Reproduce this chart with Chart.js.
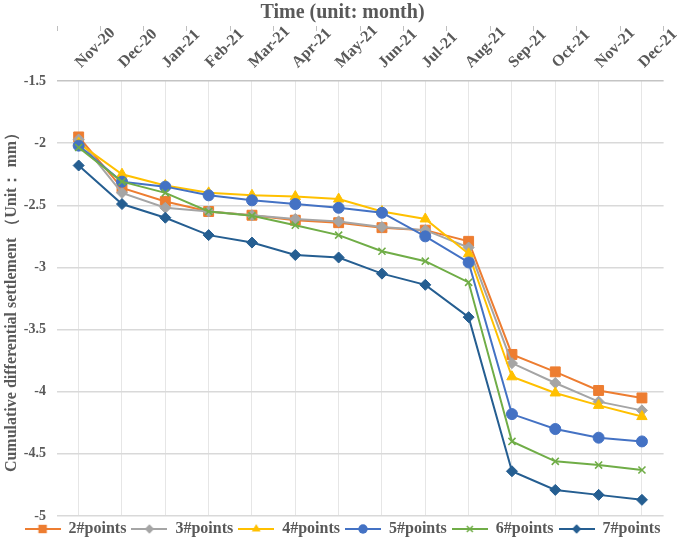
<!DOCTYPE html>
<html>
<head>
<meta charset="utf-8">
<script src="https://cdn.jsdelivr.net/npm/chart.js@4.4.1/dist/chart.umd.min.js"></script>
<style>
html,body{margin:0;padding:0;background:#fff;}
#wrap{width:685px;height:543px;position:relative;}
</style>
</head>
<body>
<div id="wrap"><canvas id="c"></canvas></div>
<script>
const months = ['Nov-20','Dec-20','Jan-21','Feb-21','Mar-21','Apr-21','May-21','Jun-21','Jul-21','Aug-21','Sep-21','Oct-21','Nov-21','Dec-21'];
const seriesNames = ['2#points','3#points','4#points','5#points','6#points','7#points'];
const p2 = [-1.95,-2.36,-2.47,-2.55,-2.58,-2.62,-2.64,-2.68,-2.70,-2.79,-3.70,-3.84,-3.99,-4.05];
const p3 = [-1.97,-2.40,-2.52,-2.55,-2.58,-2.61,-2.63,-2.675,-2.70,-2.84,-3.77,-3.93,-4.08,-4.15];
const p4 = [-2.00,-2.25,-2.34,-2.40,-2.42,-2.43,-2.45,-2.55,-2.61,-2.89,-3.88,-4.01,-4.11,-4.20];
const p5 = [-2.02,-2.31,-2.35,-2.42,-2.46,-2.49,-2.52,-2.56,-2.75,-2.96,-4.18,-4.30,-4.37,-4.40];
const p6 = [-2.035,-2.31,-2.40,-2.55,-2.585,-2.66,-2.74,-2.87,-2.95,-3.12,-4.40,-4.56,-4.59,-4.63];
const p7 = [-2.18,-2.49,-2.60,-2.74,-2.80,-2.90,-2.92,-3.05,-3.14,-3.40,-4.64,-4.79,-4.83,-4.87];
const yMin = -5, yMax = -1.5, yStep = 0.5;

const seriesValues = [p2,p3,p4,p5,p6,p7];
const colors = ['#ED7D31','#A5A5A5','#FFC000','#4472C4','#70AD47','#255E91'];
const styles = ['rect','rectRot','triangle','circle','crossRot','rectRot'];
const radii = [7,5.5,6,5.5,5,5.5];

const TXT = '#595959';
const FONT = "'Liberation Serif', 'Times New Roman', serif";

function markerPath(ctx, style, x, y, r){
  ctx.beginPath();
  if(style==='rect'){ const s=r*Math.SQRT1_2; ctx.rect(x-s,y-s,2*s,2*s); }
  else if(style==='rectRot'){ ctx.moveTo(x,y-r);ctx.lineTo(x+r,y);ctx.lineTo(x,y+r);ctx.lineTo(x-r,y);ctx.closePath(); }
  else if(style==='triangle'){ ctx.moveTo(x,y-r);ctx.lineTo(x+r*0.866,y+r*0.5);ctx.lineTo(x-r*0.866,y+r*0.5);ctx.closePath(); }
  else if(style==='circle'){ ctx.arc(x,y,r,0,Math.PI*2); }
  else if(style==='crossRot'){ const s=r*Math.SQRT1_2; ctx.moveTo(x-s,y-s);ctx.lineTo(x+s,y+s);ctx.moveTo(x+s,y-s);ctx.lineTo(x-s,y+s); }
}
const ICON_W = 36;
function legendIcon(i){
  const c=document.createElement('canvas'); c.width=ICON_W; c.height=14;
  const ctx=c.getContext('2d');
  ctx.strokeStyle=colors[i]; ctx.fillStyle=colors[i]; ctx.lineWidth=2;
  ctx.beginPath(); ctx.moveTo(0,7); ctx.lineTo(ICON_W,7); ctx.stroke();
  const r = radii[i]*0.85;
  markerPath(ctx, styles[i], ICON_W/2, 7, r);
  if(styles[i]==='crossRot'){ ctx.lineWidth=1.5; ctx.stroke(); } else { ctx.fill(); }
  return c;
}
const icons = seriesNames.map((n,i)=>legendIcon(i));

const datasets = seriesNames.map((name,i)=>({
  label:name,
  data:seriesValues[i],
  borderColor:colors[i],
  backgroundColor:colors[i],
  borderWidth:2,
  pointStyle:styles[i],
  pointRadius:radii[i],
  pointHoverRadius:radii[i],
  pointBackgroundColor:colors[i],
  pointBorderColor:colors[i],
  pointBorderWidth: styles[i]==='crossRot'?1.6:1,
  tension:0,
  order: seriesNames.length - i,
  xAxisID:'x',
  yAxisID:'y'
}));

new Chart(document.getElementById('c'),{
  type:'line',
  data:{labels:months,datasets},
  options:{
    responsive:true,maintainAspectRatio:false,animation:false,
    devicePixelRatio:1,
    layout:{padding:{left:0,right:0,top:0,bottom:-4}},
    plugins:{
      tooltip:{enabled:false},
      title:{display:true,text:'Time (unit: month)',color:TXT,
        font:{family:FONT,size:20,weight:'bold',lineHeight:1.2},padding:{top:1,bottom:1}},
      legend:{position:'bottom',
        labels:{color:TXT,font:{family:FONT,size:16,weight:'bold'},
          usePointStyle:true,pointStyleWidth:ICON_W,boxHeight:12,padding:5,
          generateLabels:(chart)=>chart.data.datasets.map((d,i)=>({
            text:d.label,fillStyle:colors[i],strokeStyle:colors[i],lineWidth:0,
            pointStyle:icons[i],hidden:false,datasetIndex:i,fontColor:TXT
          }))
        }
      }
    },
    scales:{
      x:{type:'category',position:'top',offset:true,
        grid:{offset:false,color:'#E6E6E6',drawTicks:false},
        border:{display:false},
        ticks:{color:TXT,font:{family:FONT,size:16,weight:'bold'},minRotation:45,maxRotation:45,padding:9,labelOffset:13,autoSkip:false},
        afterFit:(s)=>{s.height=55;}
      },
      x2:{type:'category',position:'top',offset:true,labels:months,
        grid:{offset:true,color:'#BFBFBF',drawOnChartArea:false,drawTicks:true,tickLength:-5},
        border:{display:false},
        ticks:{display:false},
        afterFit:(s)=>{s.height=0;}
      },
      y:{min:yMin,max:yMax,
        ticks:{stepSize:yStep,color:TXT,font:{family:FONT,size:14,weight:'bold'},padding:11,
          callback:(v)=>String(Math.round(v*10)/10)},
        grid:{color:(c)=>c.tick && c.tick.value===yMax ? '#C4C4C4' : '#D9D9D9',drawTicks:false,lineWidth:1.5},
        border:{display:false},
        title:{display:true,text:'Cumulative differential settlement （Unit： mm）',color:TXT,
          font:{family:FONT,size:16,weight:'bold',lineHeight:1.2},padding:{top:2,bottom:0}},
        afterFit:(s)=>{s.width=57;}
      },
      yR:{position:'right',min:yMin,max:yMax,
        ticks:{display:false},grid:{display:false},border:{display:false},
        afterFit:(s)=>{s.width=17;}
      }
    }
  }
});
</script>
</body>
</html>
